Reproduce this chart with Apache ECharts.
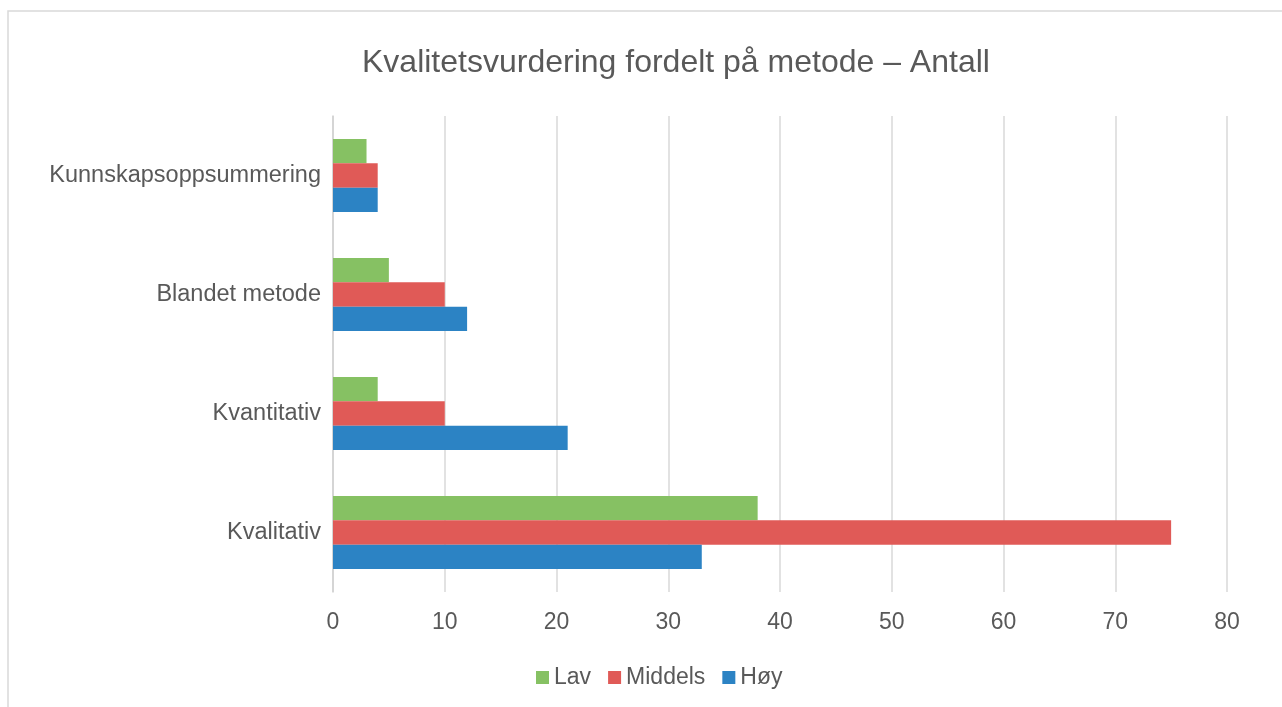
<!DOCTYPE html>
<html>
<head>
<meta charset="utf-8">
<script src="https://cdn.jsdelivr.net/npm/echarts@6/dist/echarts.min.js"></script>
<style>
  html, body { margin: 0; padding: 0; background: #fff; }
  #chart { width: 1282px; height: 707px; }
</style>
</head>
<body>
<div id="chart"></div>
<script>
// categories, bottom to top
const categories = ['Kvalitativ', 'Kvantitativ', 'Blandet metode', 'Kunnskapsoppsummering']
const lav = [38, 4, 5, 3]
const middels = [75, 10, 10, 4]
const hoy = [33, 21, 12, 4]
const xTicks = [0, 10, 20, 30, 40, 50, 60, 70, 80]

const textColor = '#595959'
const font = 'Liberation Sans, Arial, sans-serif'

const myChart = echarts.init(document.getElementById('chart'))
const options = {
  backgroundColor: '#FFF',
  textStyle: { fontFamily: font },
  title: {
    text: 'Kvalitetsvurdering fordelt på metode – Antall',
    left: 362,
    top: 47,
    padding: 0,
    textStyle: { fontSize: 32, fontWeight: 'normal', color: textColor, fontFamily: font }
  },
  graphic: [{
    type: 'rect',
    shape: { x: 8, y: 11, width: 1400, height: 800 },
    style: { fill: 'none', stroke: '#d9d9d9', lineWidth: 1.5 },
    silent: true
  }],
  legend: {
    data: ['Lav', 'Middels', 'Høy'],
    left: 536,
    top: 666,
    padding: 0,
    icon: 'rect',
    itemWidth: 13,
    itemHeight: 13,
    itemGap: 17,
    textStyle: { fontSize: 23, color: textColor, fontFamily: font }
  },
  grid: {
    left: 333,
    right: 55,
    top: 116,
    bottom: 115,
    containLabel: false
  },
  xAxis: {
    type: 'value',
    min: xTicks[0],
    max: xTicks[xTicks.length - 1],
    interval: 10,
    axisLine: { show: false },
    axisTick: { show: false },
    axisLabel: { fontSize: 23, color: textColor, margin: 19, fontFamily: font },
    splitLine: { lineStyle: { color: '#d9d9d9', width: 1.5 } }
  },
  yAxis: {
    type: 'category',
    data: categories,
    axisLine: { show: true, lineStyle: { color: '#d0d0d0', width: 1.5 } },
    axisTick: { show: false },
    axisLabel: { fontSize: 23.5, color: textColor, margin: 12, fontFamily: font }
  },
  series: [
    { name: 'Lav', type: 'bar', data: lav, barGap: 0, barCategoryGap: '38.5%', itemStyle: { color: '#86c163' } },
    { name: 'Middels', type: 'bar', data: middels, barGap: 0, barCategoryGap: '38.5%', itemStyle: { color: '#e05a57' } },
    { name: 'Høy', type: 'bar', data: hoy, barGap: 0, barCategoryGap: '38.5%', itemStyle: { color: '#2c83c4' } }
  ]
}
myChart.setOption(options)
</script>
</body>
</html>
